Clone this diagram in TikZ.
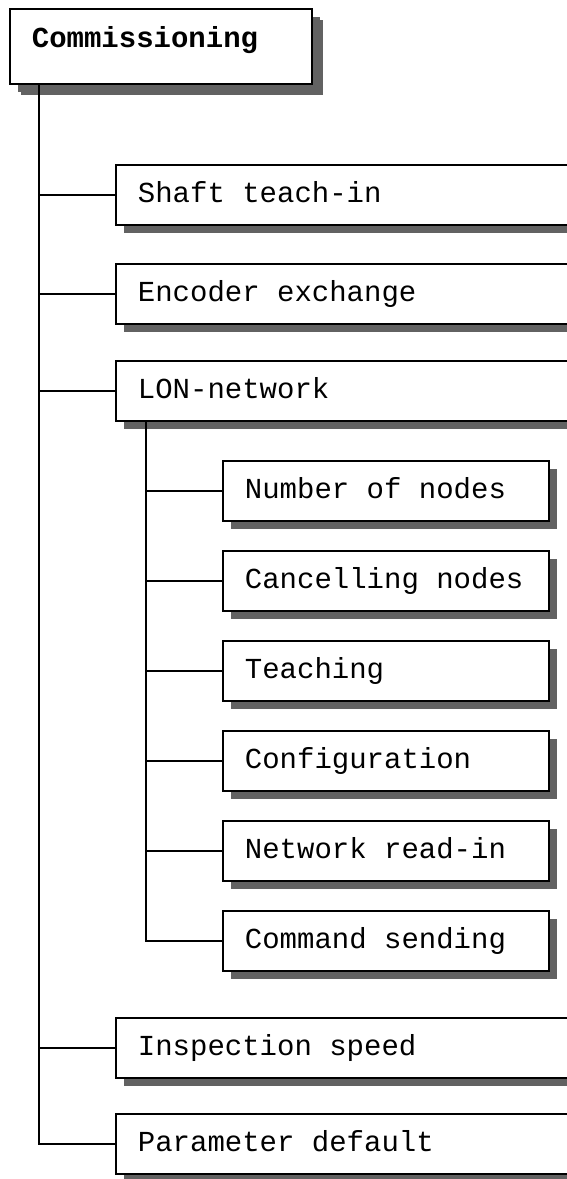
\documentclass[tikz,border=0pt]{standalone}
\usepackage{fontspec}
\setmonofont{Liberation Mono}
\usetikzlibrary{shadows}
\definecolor{shade}{HTML}{626262}
\newcommand{\boxfont}{\fontsize{29}{34}\selectfont\ttfamily}
\tikzset{
  box/.style={draw=black, line width=1.8pt, fill=white, anchor=north west,
    inner xsep=22pt, inner ysep=0pt, align=left,
    font=\boxfont, text height=18pt, text depth=2pt,
    execute at begin node={\spaceskip=0.6em plus 0pt minus 0pt\relax\xspaceskip=\spaceskip},
    drop shadow={shadow xshift=8pt, shadow yshift=-8pt, fill=shade, opacity=1}},
  lvlone/.style={box, minimum height=60pt, text width=426pt},
  lvltwo/.style={box, minimum height=60pt, text width=282pt},
  rootbox/.style={box, minimum height=75pt, text width=258pt,
    font=\boxfont\bfseries, text height=5pt, text depth=2pt,
    drop shadow={shadow xshift=11pt, shadow yshift=-11pt, fill=shade, opacity=1}},
  wire/.style={draw=black, line width=1.8pt}
}
\begin{document}
\begin{tikzpicture}[x=1pt,y=-1pt]
\useasboundingbox (0,0) rectangle (566,1179);
\node[rootbox] (root) at (9,8) {Commissioning};
\node[lvlone] (shaft) at (115,164) {Shaft teach-in};
\node[lvlone] (enc) at (115,263) {Encoder exchange};
\node[lvlone] (lon) at (115,360) {LON-network};
\node[lvltwo] (num) at (222,460) {Number of nodes};
\node[lvltwo] (canc) at (222,550) {Cancelling nodes};
\node[lvltwo] (teach) at (222,640) {Teaching};
\node[lvltwo] (conf) at (222,730) {Configuration};
\node[lvltwo] (netr) at (222,820) {Network read-in};
\node[lvltwo] (cmd) at (222,910) {Command sending};
\node[lvlone] (insp) at (115,1017) {Inspection speed};
\node[lvlone] (param) at (115,1113) {Parameter default};
\coordinate (t0) at (39,83);
\coordinate (t1) at (146,420);
\draw[wire] (t0) |- (param.west);
\foreach \n in {shaft,enc,lon,insp}
  \draw[wire] (t0 |- \n.west) -- (\n.west);
\draw[wire] (t1) |- (cmd.west);
\foreach \n in {num,canc,teach,conf,netr}
  \draw[wire] (t1 |- \n.west) -- (\n.west);
\end{tikzpicture}
\end{document}
